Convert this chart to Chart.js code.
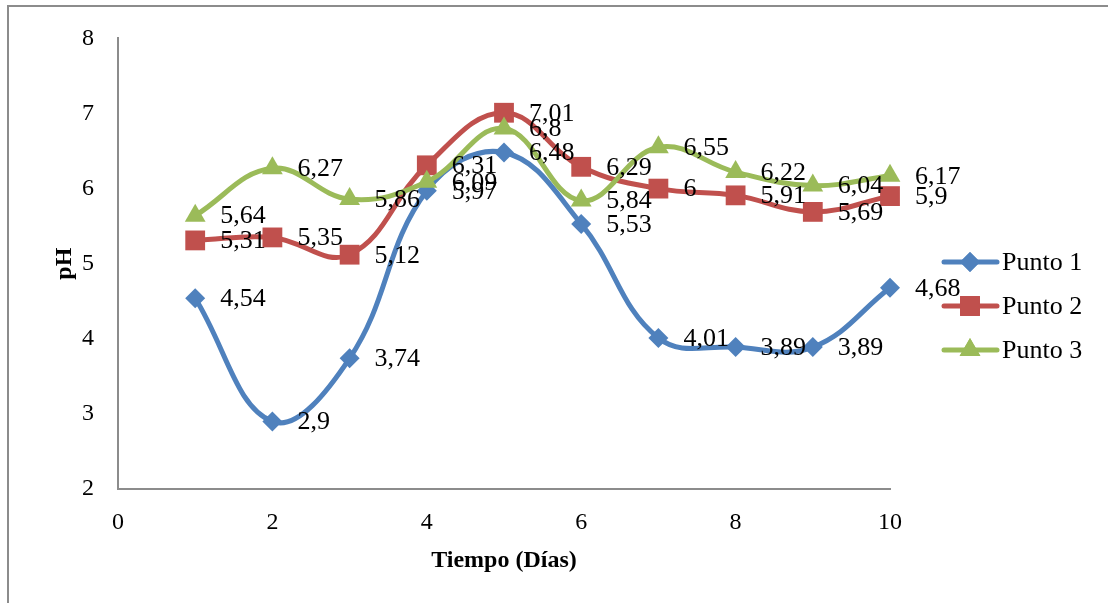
<!DOCTYPE html>
<html>
<head>
<meta charset="utf-8">
<script src="https://cdn.jsdelivr.net/npm/chart.js@4/dist/chart.umd.min.js"></script>
<style>
  html, body { margin: 0; padding: 0; background: #fff; }
  canvas { display: block; }
</style>
</head>
<body>
<canvas id="phChart" width="1108" height="603"></canvas>
<script>
// pH por día de muestreo
const days = [1, 2, 3, 4, 5, 6, 7, 8, 9, 10];
const punto1 = [4.54, 2.9, 3.74, 5.97, 6.48, 5.53, 4.01, 3.89, 3.89, 4.68];
const punto2 = [5.31, 5.35, 5.12, 6.31, 7.01, 6.29, 6, 5.91, 5.69, 5.9];
const punto3 = [5.64, 6.27, 5.86, 6.09, 6.8, 5.84, 6.55, 6.22, 6.04, 6.17];
const seriesNames = ['Punto 1', 'Punto 2', 'Punto 3'];

const serif = '"Liberation Serif", "Times New Roman", serif';

function toPoints(values) {
    return days.map((d, i) => ({ x: d, y: values[i] }));
}

// frame line around the picture (left + top only visible)
const framePlugin = {
    id: 'frame',
    beforeDraw(chart) {
        const ctx = chart.ctx;
        ctx.save();
        ctx.strokeStyle = '#8c8c8c';
        ctx.lineWidth = 2;
        ctx.beginPath();
        ctx.moveTo(8, 603);
        ctx.lineTo(8, 6);
        ctx.lineTo(1108, 6);
        ctx.stroke();
        ctx.restore();
    }
};

// value labels to the right of each point
const valueLabels = {
    id: 'valueLabels',
    afterDatasetsDraw(chart) {
        const ctx = chart.ctx;
        ctx.save();
        ctx.font = '26px ' + serif;
        ctx.fillStyle = '#000';
        ctx.textAlign = 'left';
        ctx.textBaseline = 'middle';
        chart.data.datasets.forEach((ds, i) => {
            const meta = chart.getDatasetMeta(i);
            meta.data.forEach((pt, j) => {
                const txt = String(ds.data[j].y).replace('.', ',');
                ctx.fillText(txt, pt.x + 25, pt.y + 1);
            });
        });
        ctx.restore();
    }
};

// legend with line + marker, like the spreadsheet one
const sideLegend = {
    id: 'sideLegend',
    afterDraw(chart) {
        const ctx = chart.ctx;
        const rows = [262, 306, 350];
        ctx.save();
        chart.data.datasets.forEach((ds, i) => {
            const y = rows[i];
            ctx.strokeStyle = ds.borderColor;
            ctx.lineWidth = 5;
            ctx.lineCap = 'round';
            ctx.beginPath();
            ctx.moveTo(944, y);
            ctx.lineTo(997, y);
            ctx.stroke();
            ctx.fillStyle = ds.backgroundColor;
            Chart.helpers.drawPoint(ctx, {
                pointStyle: ds.pointStyle,
                radius: ds.pointRadius,
                borderWidth: 0,
                rotation: 0
            }, 970, y);
            ctx.fill();
            ctx.fillStyle = '#000';
            ctx.font = '26px ' + serif;
            ctx.textAlign = 'left';
            ctx.textBaseline = 'middle';
            ctx.fillText(ds.label, 1002, y + 1);
        });
        ctx.restore();
    }
};

const colors = ['#4f81bd', '#c0504d', '#9bbb59'];
const styles = ['rectRot', 'rect', 'triangle'];
const radii = [10, 14, 12];
const allSeries = [punto1, punto2, punto3];

const datasets = allSeries.map((vals, i) => ({
    label: seriesNames[i],
    data: toPoints(vals),
    borderColor: colors[i],
    backgroundColor: colors[i],
    borderWidth: 5,
    pointStyle: styles[i],
    pointRadius: radii[i],
    pointBorderWidth: 0,
    tension: 0.4,
    order: 2 - i,
    clip: false
}));

new Chart(document.getElementById('phChart'), {
    type: 'line',
    data: { datasets },
    plugins: [framePlugin, valueLabels, sideLegend],
    options: {
        responsive: false,
        animation: false,
        layout: { padding: { left: 0, top: 36, right: 218, bottom: 0 } },
        plugins: {
            legend: { display: false },
            tooltip: { enabled: false }
        },
        scales: {
            x: {
                type: 'linear',
                min: 0,
                max: 10,
                grid: { display: false, drawTicks: false },
                border: { display: true, color: '#8c8c8c', width: 2 },
                ticks: {
                    stepSize: 2,
                    padding: 19,
                    color: '#000',
                    font: { family: serif, size: 24 }
                },
                title: {
                    display: true,
                    text: 'Tiempo (Días)',
                    color: '#000',
                    font: { family: serif, size: 24, weight: 'bold' },
                    padding: { top: 0, bottom: 28 }
                },
                afterFit(scale) { scale.height = 114; }
            },
            y: {
                min: 2,
                max: 8,
                grid: { display: false, drawTicks: false },
                border: { display: true, color: '#8c8c8c', width: 2 },
                ticks: {
                    stepSize: 1,
                    padding: 24,
                    color: '#000',
                    font: { family: serif, size: 24 }
                },
                title: {
                    display: true,
                    text: 'pH',
                    color: '#000',
                    font: { family: serif, size: 24, weight: 'bold' },
                    padding: { top: 50, bottom: 0 }
                },
                afterFit(scale) { scale.width = 118; }
            }
        }
    }
});
</script>
</body>
</html>
